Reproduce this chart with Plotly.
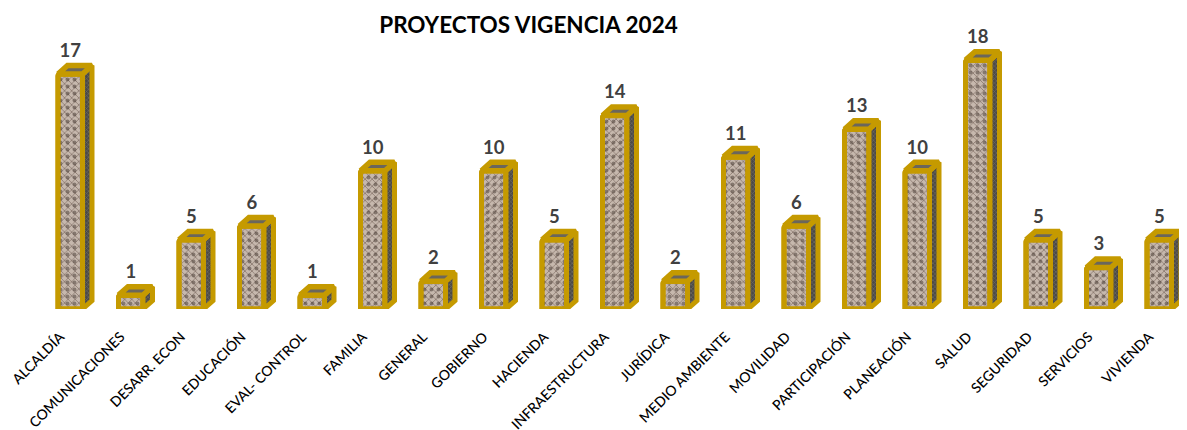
import plotly.graph_objects as go

categories = ["ALCALDÍA", "COMUNICACIONES", "DESARR. ECON", "EDUCACIÓN", "EVAL- CONTROL",
              "FAMILIA", "GENERAL", "GOBIERNO", "HACIENDA", "INFRAESTRUCTURA", "JURÍDICA",
              "MEDIO AMBIENTE", "MOVILIDAD", "PARTICIPACIÓN", "PLANEACIÓN", "SALUD",
              "SEGURIDAD", "SERVICIOS", "VIVIENDA"]
values = [17, 1, 5, 6, 1, 10, 2, 10, 5, 14, 2, 11, 6, 13, 10, 18, 5, 3, 5]
title = "PROYECTOS VIGENCIA 2024"

PAGE = 8  # default body margin of the page
W, H = 1187 - PAGE, 430 - PAGE
x0_px, step_px = 70.25 - PAGE, 60.5
y0_px, unit_px = 309.3 - PAGE, 13.84
top_px = 5
half = 12.25 / step_px
dx, dy = 9.5 / step_px, 8.5 / unit_px
GOLD = "#c59a00"
xs = list(range(len(values)))
tick_shift = -10 / step_px

fig = go.Figure()
fig.add_trace(go.Bar(x=xs, y=values, width=2 * half, cliponaxis=False, showlegend=False, hoverinfo="skip",
                     marker=dict(color="#b9aa9d", cornerradius=2, line=dict(color=GOLD, width=5),
                                 pattern=dict(shape="x", size=5, solidity=0.3, fgcolor="#8b7b70",
                                              bgcolor="#c6b8ad", fillmode="replace"))))
fig.add_trace(go.Bar(x=xs, y=values, width=2 * half, cliponaxis=False, showlegend=False, hoverinfo="skip",
                     marker=dict(color="rgba(0,0,0,0)", cornerradius=2, line=dict(color=GOLD, width=5),
                                 pattern=dict(shape=".", size=7, solidity=0.25, fgcolor="rgba(80,68,60,0.55)",
                                              bgcolor="rgba(0,0,0,0)", fillmode="replace"))))

side_x, side_y, top_x, top_y = [], [], [], []
for i, v in zip(xs, values):
    l, r = i - half, i + half
    side_x += [r, r + dx, r + dx, r, r, None]
    side_y += [0, dy, v + dy, v, 0, None]
    top_x += [l, l + dx, r + dx, r, l, None]
    top_y += [v, v + dy, v + dy, v, v, None]

fig.add_trace(go.Scatter(x=side_x, y=side_y, mode="lines", fill="toself", cliponaxis=False, showlegend=False,
                         hoverinfo="skip", line=dict(color=GOLD, width=5),
                         fillcolor="#55534e",
                         fillpattern=dict(shape="x", size=3, solidity=0.4, fgcolor="#8f8c80", bgcolor="#4c4a46")))
fig.add_trace(go.Scatter(x=top_x, y=top_y, mode="lines", fill="toself", cliponaxis=False, showlegend=False,
                         hoverinfo="skip", line=dict(color=GOLD, width=5.5), fillcolor="#6a665c"))
fig.add_trace(go.Scatter(x=xs, y=[v + dy + 4 / unit_px for v in values], mode="text", text=[str(v) for v in values],
                         textposition="top center", cliponaxis=False, showlegend=False, hoverinfo="skip",
                         textfont=dict(family="Lato", size=18.5, color="#404040", weight="bold")))

fig.update_layout(
    width=W, height=H, autosize=False, paper_bgcolor="white", plot_bgcolor="white", showlegend=False,
    barmode="overlay",
    margin=dict(l=0, r=0, t=top_px, b=H - y0_px, pad=0, autoexpand=False),
    title=dict(text=title, x=(528.5 - PAGE) / W, xanchor="center", y=1 - (25 - PAGE) / H, yanchor="middle",
               font=dict(family="Lato", size=22.5, color="black", weight="bold"), automargin=False),
    xaxis=dict(range=[-x0_px / step_px, (W - x0_px) / step_px], tickmode="array", automargin=False,
               tickvals=[i + tick_shift for i in xs], ticktext=categories,
               tickangle=-45, showgrid=False, zeroline=False, showline=False, ticks="", ticklabelstandoff=16,
               tickfont=dict(family="Lato", size=14, color="#000000", weight=500)),
    yaxis=dict(range=[0, (y0_px - top_px) / unit_px], visible=False, automargin=False),
)
fig.write_html("out.html")
